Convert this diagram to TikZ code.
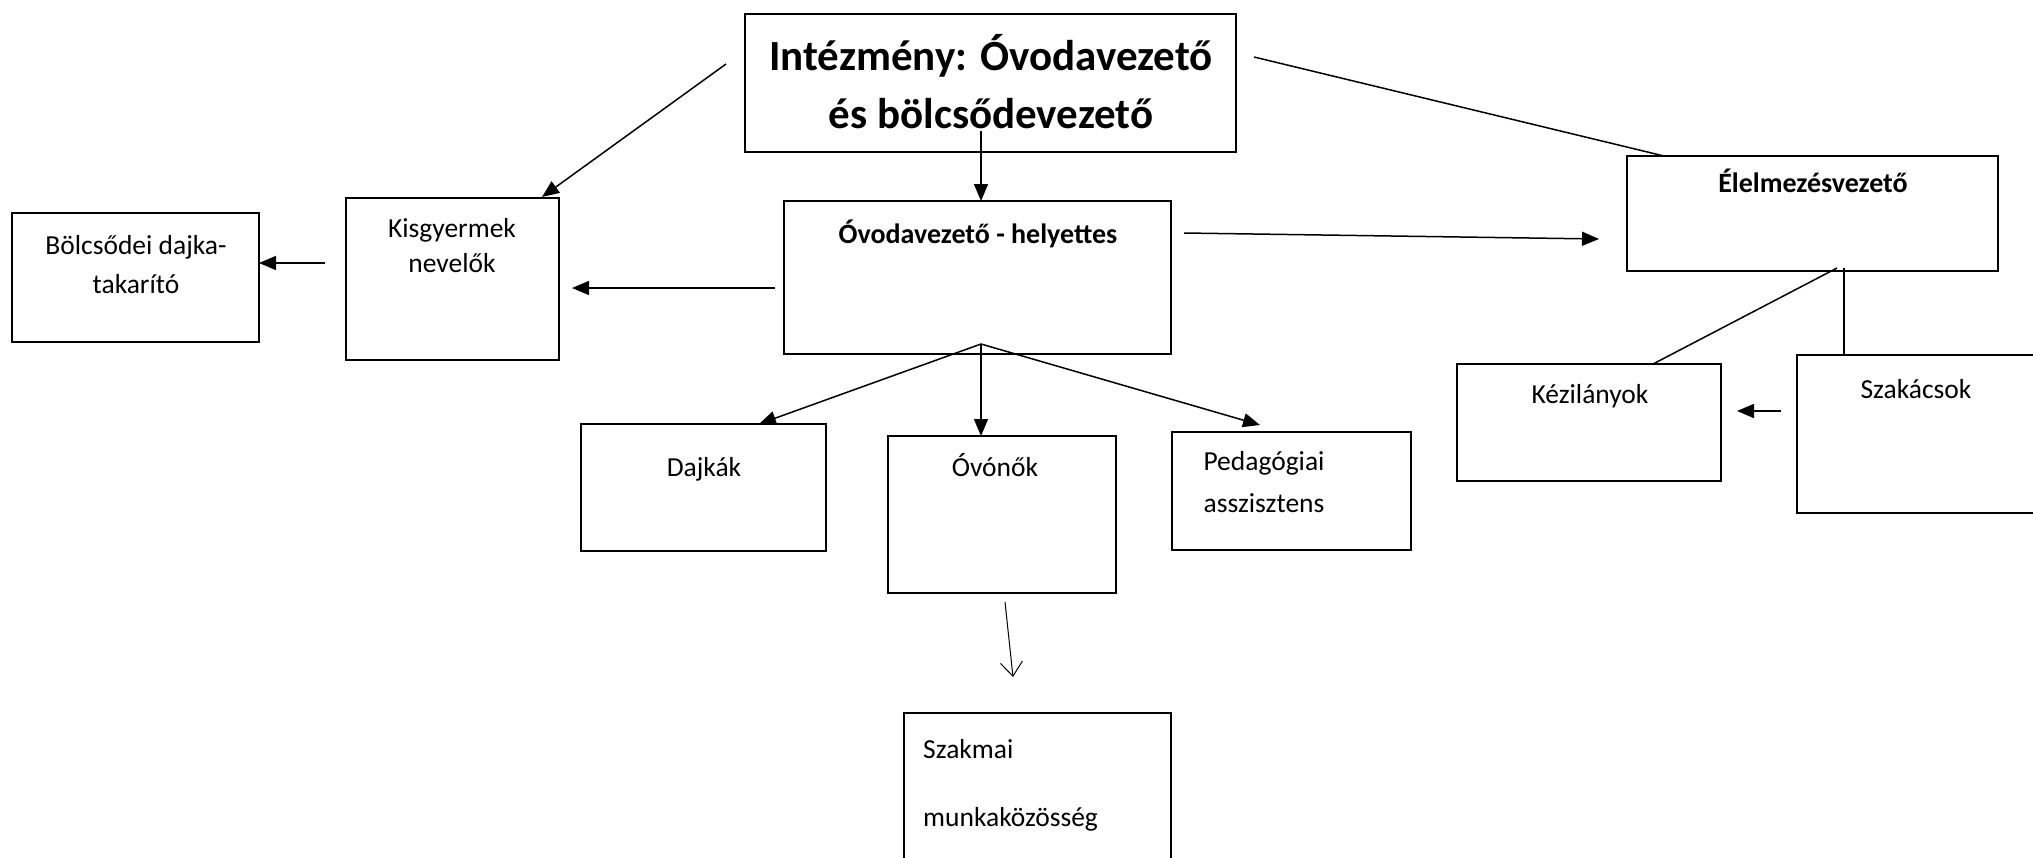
\documentclass[tikz,border=0pt]{standalone}
\usepackage{fontspec}
\setmainfont{Carlito}
\usetikzlibrary{arrows.meta}
\newcommand\txtsz[1]{\fontsize{27.5}{#1}\selectfont}
\tikzset{
  box/.style={draw, line width=2.2pt, inner sep=0pt, outer sep=0pt, anchor=north west},
  thinbox/.style={draw, line width=1.2pt, inner sep=0pt, outer sep=0pt, anchor=north west},
  lbl/.style={inner sep=0pt, anchor=base, align=center},
  arr/.style={line width=1.5pt, -{Triangle[length=17pt,width=14pt]}},
  plain/.style={line width=1.5pt},
  openarr/.style={line width=1pt, -{Straight Barb[length=14pt,width=22pt,line width=1pt]}}
}
\begin{document}
\begin{tikzpicture}[x=1pt,y=-1pt]
\useasboundingbox (0,0) rectangle (2033,857);
\clip (0,0) rectangle (2033,857);
% boxes
\node[box, minimum width=491pt, minimum height=138pt] (top) at (745,14) {};
\node[box, minimum width=387pt, minimum height=153pt] (hely) at (784,201) {};
\node[box, minimum width=371pt, minimum height=115pt] (elel) at (1627,156) {};
\node[box, minimum width=213pt, minimum height=162pt] (kisgy) at (346,198) {};
\node[box, minimum width=247pt, minimum height=129pt] (bolcs) at (12,213) {};
\node[box, minimum width=245pt, minimum height=127pt] (dajk) at (581,424) {};
\node[box, minimum width=228pt, minimum height=157pt] (ovon) at (888,436) {};
\node[box, minimum width=239pt, minimum height=118pt] (pedag) at (1172,432) {};
\node[box, minimum width=264pt, minimum height=117pt] (kezi) at (1457,364) {};
\node[box, minimum width=262pt, minimum height=158pt] (szak) at (1797,355) {};
\node[thinbox, minimum width=267pt, minimum height=170pt] (szm) at (904,713) {};
% texts (base = baseline of last line)
\node[lbl, font={\bfseries\fontsize{43}{58}\selectfont}] (ttop) at (991,128) {Intézmény: Óvodavezető\\és bölcsődevezető};
\node[lbl, font={\bfseries\fontsize{28}{30}\selectfont}] (thely) at (978,243) {Óvodavezető - helyettes};
\node[lbl, font={\bfseries\fontsize{28}{30}\selectfont}] (telel) at (1813,192) {Élelmezésvezető};
\node[lbl, font={\txtsz{35}}] (tkisgy) at (452,272) {Kisgyermek\\nevelők};
\node[lbl, font={\txtsz{39}}] (tbolcs) at (136,293) {Bölcsődei dajka-\\takarító};
\node[lbl, font={\txtsz{30}}] (tdajk) at (704,476) {Dajkák};
\node[lbl, font={\txtsz{30}}] (tovon) at (995,476) {Óvónők};
\node[lbl, font={\txtsz{42}}] (tpedag) at (1264,512) {Pedagógiai\\asszisztens};
\node[lbl, font={\txtsz{30}}] (tkezi) at (1590,403) {Kézilányok};
\node[lbl, font={\txtsz{30}}] (tszak) at (1916,398) {Szakácsok};
\node[lbl, align=left, anchor=base west, font={\txtsz{68}}] (tszm) at (923,826) {Szakmai\\munkaközösség};
% free connector ends
\coordinate (a1) at (726,64);
\coordinate (a1e) at (542,197);
\coordinate (a2) at (981,131);
\coordinate (a3) at (1254,57);
\coordinate (a3e) at (1664,156);
\coordinate (a4) at (1184,233);
\coordinate (a4e) at (1599,239);
\coordinate (a5) at (775,288);
\coordinate (a5e) at (572,288);
\coordinate (a6) at (325,263);
\coordinate (a6e) at (259,263);
\coordinate (hub) at (981,344);
\coordinate (dje) at (759,424);
\coordinate (pde) at (1260,425);
\coordinate (a8) at (1005,602);
\coordinate (a8e) at (1013,677);
\coordinate (e1) at (1837,268);
\coordinate (e1e) at (1653,364);
\coordinate (e2) at (1844,268);
\coordinate (a11) at (1781,411);
\coordinate (a11e) at (1737,411);
% connectors
\draw[arr] (a1) -- (a1e);
\draw[arr] (a2) -- (hely.north -| a2);
\draw[plain] (a3) -- (a3e);
\draw[arr] (a4) -- (a4e);
\draw[arr] (a5) -- (a5e);
\draw[arr] (a6) -- (a6e);
\draw[arr] (hub) -- (dje);
\draw[arr] (hub) -- (ovon.north -| hub);
\draw[arr] (hub) -- (pde);
\draw[openarr] (a8) -- (a8e);
\draw[plain] (e1) -- (e1e);
\draw[plain] (e2) -- (szak.north -| e2);
\draw[arr] (a11) -- (a11e);
\end{tikzpicture}
\end{document}
